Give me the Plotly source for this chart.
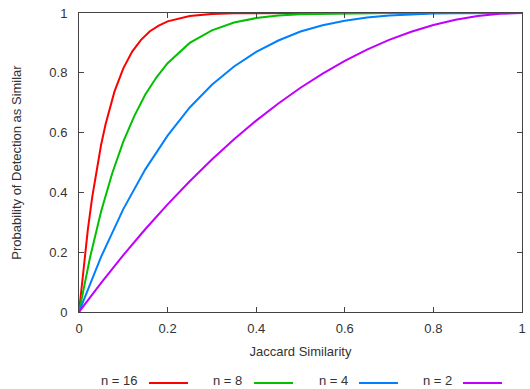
import plotly.graph_objects as go

# Jaccard similarity (x) and detection probability (y)
s16 = [0, 0.01, 0.02, 0.03, 0.04, 0.05, 0.06, 0.08, 0.10, 0.12, 0.14, 0.16, 0.18, 0.20, 0.25, 0.30, 0.35, 0.40, 0.50, 0.60, 0.80, 1.0]
p16 = [0, 0.149, 0.276, 0.386, 0.480, 0.560, 0.628, 0.737, 0.815, 0.871, 0.910, 0.939, 0.958, 0.972, 0.990, 0.997, 0.999, 1.0, 1.0, 1.0, 1.0, 1.0]

s8 = [0, 0.025, 0.05, 0.075, 0.10, 0.125, 0.15, 0.175, 0.20, 0.25, 0.30, 0.35, 0.40, 0.45, 0.50, 0.60, 0.70, 0.80, 1.0]
p8 = [0, 0.183, 0.337, 0.464, 0.570, 0.656, 0.728, 0.785, 0.832, 0.900, 0.942, 0.968, 0.983, 0.992, 0.996, 0.999, 1.0, 1.0, 1.0]

s4 = [0, 0.05, 0.10, 0.15, 0.20, 0.25, 0.30, 0.35, 0.40, 0.45, 0.50, 0.55, 0.60, 0.65, 0.70, 0.75, 0.80, 0.85, 0.90, 1.0]
p4 = [0, 0.185, 0.344, 0.478, 0.590, 0.684, 0.760, 0.821, 0.870, 0.908, 0.938, 0.959, 0.974, 0.985, 0.992, 0.996, 0.998, 0.999, 1.0, 1.0]

s2 = [0, 0.05, 0.10, 0.15, 0.20, 0.25, 0.30, 0.35, 0.40, 0.45, 0.50, 0.55, 0.60, 0.65, 0.70, 0.75, 0.80, 0.85, 0.90, 0.95, 1.0]
p2 = [0, 0.0975, 0.19, 0.2775, 0.36, 0.4375, 0.51, 0.5775, 0.64, 0.6975, 0.75, 0.7975, 0.84, 0.8775, 0.91, 0.9375, 0.96, 0.9775, 0.99, 0.9975, 1.0]

series_names = ["n = 16", "n = 8", "n = 4", "n = 2"]
series_colors = ["#ff0000", "#00c000", "#0080ff", "#c000ff"]
xs = [s16, s8, s4, s2]
ys = [p16, p8, p4, p2]

tick_vals = [0, 0.2, 0.4, 0.6, 0.8, 1]
tick_text = ["0", "0.2", "0.4", "0.6", "0.8", "1"]

W, H = 530, 389
L, R, T, B = 79, 522, 13, 312

fig = go.Figure()
for x, y, name, col in zip(xs, ys, series_names, series_colors):
    fig.add_trace(go.Scatter(x=x, y=y, mode="lines", name=name,
                             line=dict(color=col, width=2), showlegend=False))

axis_common = dict(
    range=[0, 1], tickvals=tick_vals, ticktext=tick_text,
    ticks="inside", ticklen=5, tickcolor="#444", tickwidth=1,
    showline=True, linecolor="#444", linewidth=1, mirror="ticks",
    showgrid=False, zeroline=False, automargin=False,
    tickfont=dict(family="Liberation Sans, Arial, sans-serif", size=13, color="#333"),
)

fig.update_layout(
    width=W, height=H, autosize=False,
    margin=dict(l=L, r=W - R, t=T, b=H - B, pad=0),
    paper_bgcolor="white", plot_bgcolor="white",
    font=dict(family="Liberation Sans, Arial, sans-serif", size=13, color="#333"),
    xaxis=dict(**axis_common, ticklabelstandoff=4,
               title=dict(text="Jaccard Similarity", standoff=12,
                          font=dict(size=13, color="#333"))),
    yaxis=dict(**axis_common, ticklabelstandoff=8,
               title=dict(text="Probability of Detection as Similar", standoff=24,
                          font=dict(size=13, color="#333"))),
    showlegend=False,
)

def px(xp):
    return (xp - L) / (R - L)

def py(yp):
    return (B - yp) / (B - T)

# Custom legend below the plot: text then line sample (gnuplot style)
legend_text_right = [139, 243, 349, 453]
legend_line_start = [149, 254, 359, 463]
legend_line_y = 383
legend_text_y = 380
for name, col, tx, lx in zip(series_names, series_colors, legend_text_right, legend_line_start):
    fig.add_annotation(x=px(tx), y=py(legend_text_y), xref="paper", yref="paper",
                       text=name, showarrow=False, xanchor="right", yanchor="middle",
                       borderpad=0, font=dict(size=13, color="#333"))
    fig.add_shape(type="line", xref="paper", yref="paper",
                  x0=px(lx), x1=px(lx + 39), y0=py(legend_line_y), y1=py(legend_line_y),
                  line=dict(color=col, width=2))

fig.write_html("out.html", config={"displayModeBar": False, "responsive": False},
               post_script="document.body.style.margin='0';document.body.style.overflow='hidden';")
